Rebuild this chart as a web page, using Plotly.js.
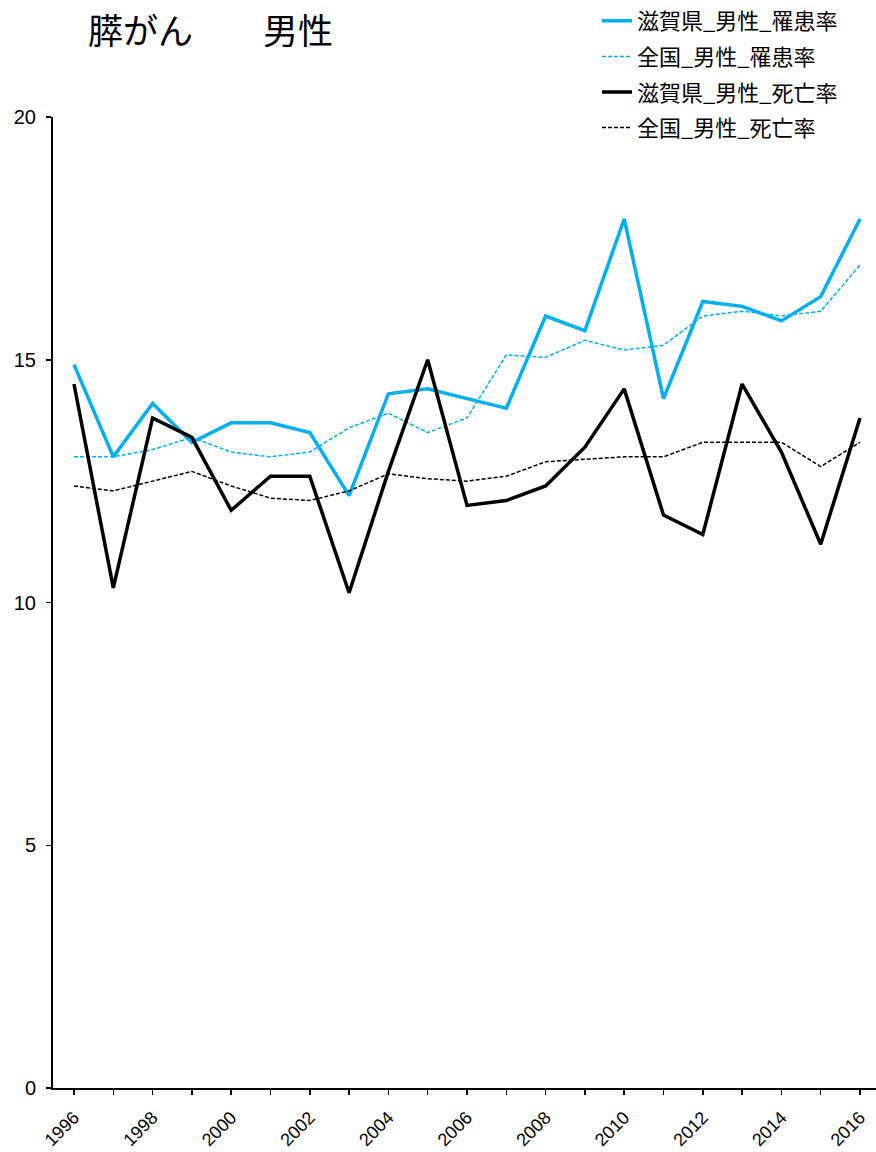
<!DOCTYPE html>
<html>
<head>
<meta charset="utf-8">
<script src="https://cdn.plot.ly/plotly-3.0.1.min.js"></script>
<style>html,body{margin:0;padding:0;background:#fff;}#chart{width:876px;height:1152px;}</style>
</head>
<body>
<div id="chart"></div>
<script>
const years = [1996,1997,1998,1999,2000,2001,2002,2003,2004,2005,2006,2007,2008,2009,2010,2011,2012,2013,2014,2015,2016];
const yearLabels = ["1996","","1998","","2000","","2002","","2004","","2006","","2008","","2010","","2012","","2014","","2016"];
const shigaIncidence = [14.9,13.0,14.1,13.3,13.7,13.7,13.5,12.2,14.3,14.4,14.2,14.0,15.9,15.6,17.9,14.2,16.2,16.1,15.8,16.3,17.9];
const nationalIncidence = [13.0,13.0,13.15,13.4,13.1,13.0,13.1,13.6,13.9,13.5,13.8,15.1,15.05,15.4,15.2,15.3,15.9,16.0,15.9,16.0,16.95];
const shigaMortality = [14.5,10.3,13.8,13.4,11.9,12.6,12.6,10.2,12.7,15.0,12.0,12.1,12.4,13.2,14.4,11.8,11.4,14.5,13.1,11.2,13.8];
const nationalMortality = [12.4,12.3,12.5,12.7,12.4,12.15,12.1,12.3,12.65,12.55,12.5,12.6,12.9,12.95,13.0,13.0,13.3,13.3,13.3,12.8,13.3];
const seriesNames = ["滋賀県_男性_罹患率","全国_男性_罹患率","滋賀県_男性_死亡率","全国_男性_死亡率"];
const titleText = "膵がん　　男性";

const blue = "#00B0F0";
const traces = [
  {x: years, y: shigaIncidence, name: seriesNames[0], legendgroup: "a", mode: "lines", line: {color: blue, width: 3.5}},
  {x: years, y: nationalIncidence, name: seriesNames[1], legendgroup: "b", mode: "lines", line: {color: blue, width: 1.5, dash: "4px,2px"}},
  {x: years, y: shigaMortality, name: seriesNames[2], legendgroup: "c", mode: "lines", line: {color: "#000", width: 3.5}},
  {x: years, y: nationalMortality, name: seriesNames[3], legendgroup: "d", mode: "lines", line: {color: "#000", width: 1.5, dash: "4px,2px"}}
];

const layout = {
  width: 876, height: 1152,
  margin: {l: 53, r: 0, t: 117, b: 64, autoexpand: false},
  paper_bgcolor: "#fff", plot_bgcolor: "#fff",
  showlegend: true,
  title: {
    text: titleText,
    font: {family: "Noto Sans CJK JP", size: 35, color: "#000"},
    xref: "container", yref: "container",
    x: 88/876, xanchor: "left",
    y: 1 - 32/1152, yanchor: "middle"
  },
  legend: {
    xref: "container", yref: "container",
    x: 597/876, xanchor: "left",
    y: 1.004, yanchor: "top",
    font: {family: "Noto Sans CJK JP", size: 22, color: "#000"},
    tracegroupgap: 4,
    bgcolor: "rgba(0,0,0,0)"
  },
  xaxis: {
    range: [1995.466, 2016.407],
    tickmode: "array", tickvals: years, ticktext: yearLabels,
    tickangle: -45,
    ticks: "outside", ticklen: 5, tickwidth: 1.5, tickcolor: "#000",
    showline: true, linecolor: "#000", linewidth: 2,
    showgrid: false, zeroline: false,
    tickfont: {family: "Liberation Sans", size: 18, color: "#000"},
    ticklabelstandoff: 5
  },
  yaxis: {
    range: [0, 20],
    tickvals: [0,5,10,15,20],
    ticks: "outside", ticklen: 5, tickwidth: 1.5, tickcolor: "#000",
    showline: true, linecolor: "#000", linewidth: 2,
    showgrid: false, zeroline: false,
    tickfont: {family: "Liberation Sans", size: 20, color: "#000"},
    ticklabelstandoff: 6
  }
};

Plotly.newPlot("chart", traces, layout, {displayModeBar: false, staticPlot: true});
</script>
</body>
</html>
